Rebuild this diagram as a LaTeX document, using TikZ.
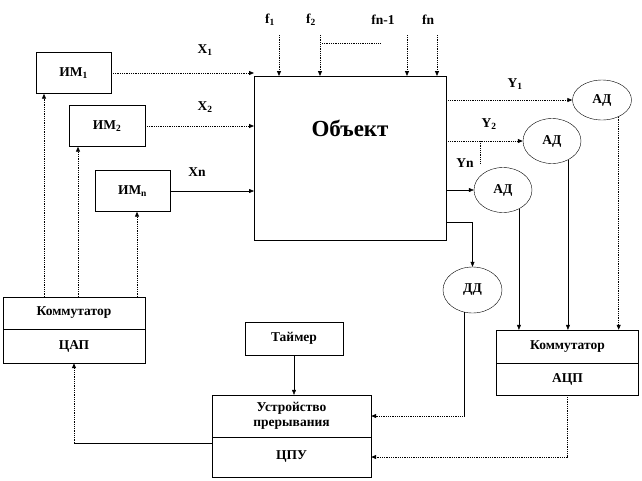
\documentclass[tikz,border=0pt]{standalone}
\usepackage{fontspec}
\setmainfont{Liberation Serif}
\usetikzlibrary{shapes.geometric,%
	arrows.meta,%
	positioning%
}

\begin{document}
\begin{tikzpicture}[x=1pt, y=-1pt, >={Triangle[length=5pt,width=4pt]},
	font=\bfseries\fontsize{13.5}{15}\selectfont]
	\useasboundingbox (0,0) rectangle (642,480);
	% boxes
	\begin{scope}[every node/.style={rectangle, draw, thin, align=center, inner sep=0pt}]
	\node[minimum width=75pt, minimum height=41pt] (IM1) at (73.5,73) {ИМ\textsubscript{1}};
	\node[minimum width=76pt, minimum height=41pt] (IM2) at (107,126) {ИМ\textsubscript{2}};
	\node[minimum width=75pt, minimum height=41pt] (IMN) at (132.5,191) {ИМ\textsubscript{n}};
	\node[minimum width=192pt, minimum height=164pt, anchor=north west] (OB) at (254,76) {};
	\node[minimum width=98pt, minimum height=33pt] (TM) at (294,338.5) {Таймер};
	\end{scope}
	\node[font=\bfseries\fontsize{23}{26}\selectfont] (OBT) at (350,128) {Объект};
	\begin{scope}[every node/.style={rectangle, draw, thin, align=center, inner sep=0pt,
		minimum width=142pt}]
	\node[minimum height=32pt] (CT) at (74,313) {Коммутатор};
	\node[minimum height=34pt] (CB) at (74,346) {ЦАП};
	\node[minimum height=33pt] (AT) at (567.5,346.5) {Коммутатор};
	\node[minimum height=32pt] (AB) at (567.5,379) {АЦП};
	\end{scope}
	\begin{scope}[every node/.style={rectangle, draw, thin, align=center, inner sep=0pt,
		minimum width=159pt}]
	\node[minimum height=42pt] (UT) at (291.5,416) {Устройство\\прерывания};
	\node[minimum height=40pt] (UB) at (291.5,457) {ЦПУ};
	\end{scope}
	% sensors
	\begin{scope}[every node/.style={ellipse, draw, thin, inner sep=0pt}]
	\node[minimum width=59pt, minimum height=40pt] (AD1) at (602,100) {АД};
	\node[minimum width=58pt, minimum height=45pt] (AD2) at (552,141) {АД};
	\node[minimum width=58pt, minimum height=45pt] (AD3) at (503,190) {АД};
	\node[minimum width=59pt, minimum height=46pt] (DD) at (472.5,290) {ДД};
	\end{scope}
	% labels
	\begin{scope}[every node/.style={inner sep=0pt}]
	\node (X1) at (205,50) {X\textsubscript{1}};
	\node (X2) at (205,107) {X\textsubscript{2}};
	\node (XN) at (197,172) {Xn};
	\node (F1) at (270,20) {f\textsubscript{1}};
	\node (F2) at (311,20) {f\textsubscript{2}};
	\node (FN1) at (383,20) {fn-1};
	\node (FN) at (428,20) {fn};
	\node (Y1) at (515,84) {Y\textsubscript{1}};
	\node (Y2) at (489,124) {Y\textsubscript{2}};
	\node (YN) at (465,163) {Yn};
	\end{scope}
	\coordinate (P1) at (279,35);
	\coordinate (P2) at (320,35);
	\coordinate (P3) at (407,35);
	\coordinate (P4) at (437,35);
	\coordinate (C1) at (44,297);
	\coordinate (C2) at (78,297);
	\coordinate (C3) at (137,297);
	\coordinate (OD) at (446,222);
	\coordinate (S1) at (480,141);
	\coordinate (S2) at (480,164);
	\coordinate (B1) at (UB.170 -| CB.south);
	\coordinate (B2) at (DD.250 |- UT.east);
	% dotted connectors
	\begin{scope}[every path/.style={draw=black, densely dotted, thick}]
	\path [->] (IM1.east) -- (IM1.east -| OB.west);
	\path [->] (IM2.east) -- (IM2.east -| OB.west);
	\path [->] (P1) -- (P1 |- OB.north);
	\path [->] (P2) -- (P2 |- OB.north);
	\path [->] (P3) -- (P3 |- OB.north);
	\path [->] (P4) -- (P4 |- OB.north);
	\path (322,43) -- (380,43);
	\path [->] (AD1.west -| OB.east) -- (AD1.west);
	\path [->] (AD2.west -| OB.east) -- (AD2.west);
	\path (S1) -- (S2);
	\path [->] (AD1.-45) -- (AD1.-45 |- AT.north);
	\path [->] (C1) -- (C1 |- IM1.south);
	\path [->] (C2) -- (C2 |- IM2.south);
	\path [->] (C3) -- (C3 |- IMN.south);
	\path [->] (AB.south) |- (UB.east);
	\path [->] (B1) -- (CB.south);
	\path [->] (B2) -- (UT.east);
	\end{scope}
	% solid connectors
	\begin{scope}[every path/.style={draw=black, thin}]
	\path [->] (IMN.east) -- (IMN.east -| OB.west);
	\path [->] (AD3.west -| OB.east) -- (AD3.west);
	\path [->] (OD) -| (DD.north);
	\path [->] (AD3.-50) -- (AD3.-50 |- AT.north);
	\path [->] (AD2.-50) -- (AD2.-50 |- AT.north);
	\path [->] (TM.south) -- (TM.south |- UT.north);
	\path (UB.170) -- (B1);
	\path (DD.250) -- (B2);
	\end{scope}
\end{tikzpicture}
\end{document}
